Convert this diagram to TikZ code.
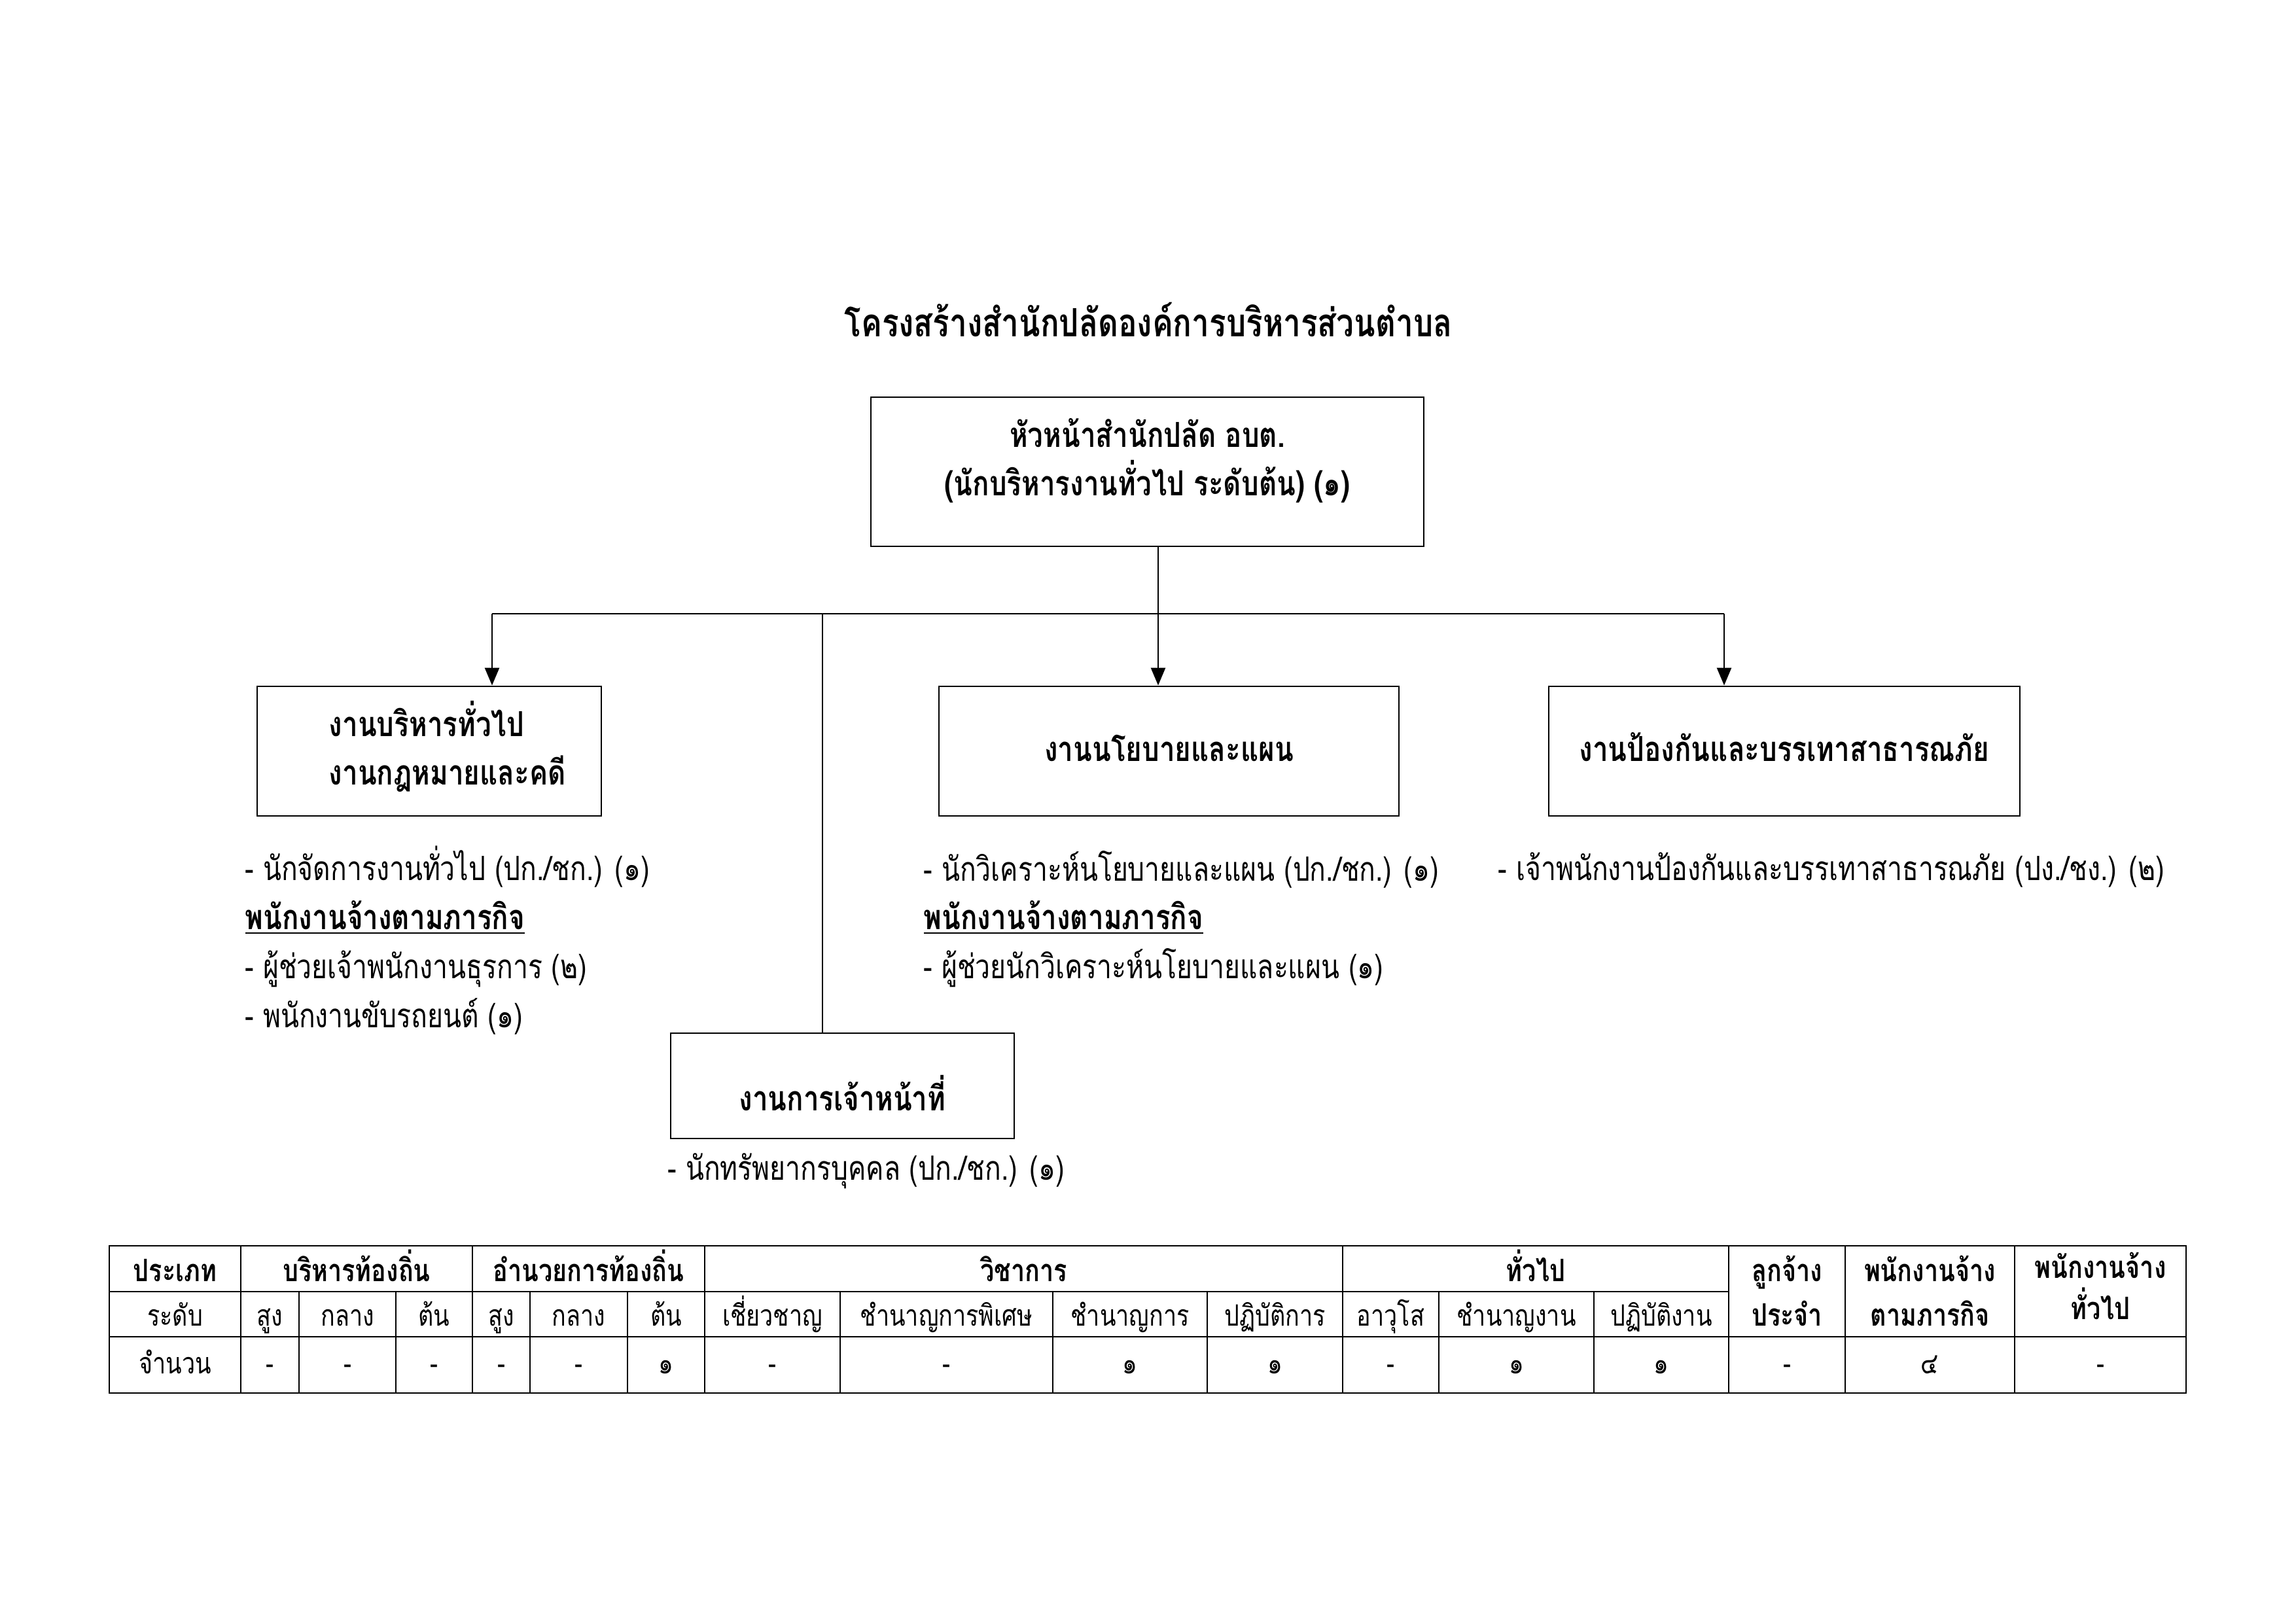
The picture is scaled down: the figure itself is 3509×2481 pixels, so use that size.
\documentclass[tikz,border=0pt]{standalone}
\usepackage{fontspec}
\setmainfont[Script=Thai,FakeStretch=0.8]{Loma}
\usetikzlibrary{arrows.meta}
\newlength\px
\setlength\px{0.08464mm}
\newcommand\fT{\fontsize{14.35}{17}\selectfont\bfseries}
\newcommand\fB{\fontsize{12.69}{15}\selectfont\bfseries}
\newcommand\fL{\fontsize{12.31}{15}\selectfont}
\newcommand\fTab{\fontsize{10.81}{13}\selectfont}
\newcommand\fTabB{\fontsize{11.375}{14}\selectfont\bfseries}
\begin{document}
\begin{tikzpicture}[x=0.08464mm,y=-0.08464mm,
  boxn/.style={draw, line width=0.7pt, inner sep=0pt},
  conn/.style={line width=0.7pt},
  arr/.style={line width=0.7pt, -{Triangle[length=2.29mm, width=1.86mm]}},
  bt/.style={anchor=base, inner sep=0pt, font=\fB},
  btl/.style={anchor=base west, inner sep=0pt, font=\fB},
  lt/.style={anchor=base west, inner sep=0pt, font=\fL},
  ut/.style={anchor=base west, inner sep=0pt, font=\fB},
  tgrid/.style={line width=0.5pt},
  tc/.style={anchor=base, inner sep=0pt, font=\fTab},
  tcb/.style={anchor=base, inner sep=0pt, font=\fTabB}]
\useasboundingbox (0,0) rectangle (3509,2481);
\fill[white] (0,0) rectangle (3509,2481);

% title
\node[anchor=base, inner sep=0pt, font=\fT] (title) at (1755,514) {โครงสร้างสำนักปลัดองค์การบริหารส่วนตำบล};

% head box
\node[boxn, minimum width=845*\px, minimum height=228*\px] (head) at (1753.5,721) {};
\node[bt] (h1) at (1753.5,683) {หัวหน้าสำนักปลัด อบต.};
\node[bt] (h2) at (1753.5,757) {(นักบริหารงานทั่วไป ระดับต้น) (๑)};

% second level boxes
\node[boxn, minimum width=526*\px, minimum height=198*\px] (b1) at (656,1148) {};
\node[btl] (b1a) at (502,1125) {งานบริหารทั่วไป};
\node[btl] (b1b) at (502,1199) {งานกฎหมายและคดี};

\node[boxn, minimum width=703*\px, minimum height=198*\px] (b3) at (1786.5,1148) {};
\node[bt] (b3a) at (1786.5,1163) {งานนโยบายและแผน};

\node[boxn, minimum width=720*\px, minimum height=198*\px] (b4) at (2727,1148) {};
\node[bt] (b4a) at (2727,1163) {งานป้องกันและบรรเทาสาธารณภัย};

\node[boxn, minimum width=525*\px, minimum height=161*\px] (b5) at (1287.5,1659.5) {};
\node[bt] (b5a) at (1287.5,1697) {งานการเจ้าหน้าที่};

% connectors
\coordinate (j) at (1770,938);
\coordinate (jl) at (752,938);
\coordinate (jr) at (2635,938);
\coordinate (jm) at (1257,938);
\draw[conn] (head.south -| j) -- (j);
\draw[conn] (jl) -- (jr);
\draw[arr] (jl) -- (jl |- b1.north);
\draw[arr] (j) -- (j |- b3.north);
\draw[arr] (jr) -- (jr |- b4.north);
\draw[conn] (jm) -- (jm |- b5.north);

% lists
\node[lt] (l11) at (374,1345) {- นักจัดการงานทั่วไป (ปก./ชก.) (๑)};
\node[ut] (l12) at (374,1420) {\underline{พนักงานจ้างตามภารกิจ}};
\node[lt] (l13) at (374,1495) {- ผู้ช่วยเจ้าพนักงานธุรการ (๒)};
\node[lt] (l14) at (374,1570) {- พนักงานขับรถยนต์ (๑)};

\node[lt] (l31) at (1411,1346) {- นักวิเคราะห์นโยบายและแผน (ปก./ชก.) (๑)};
\node[ut] (l32) at (1411,1420) {\underline{พนักงานจ้างตามภารกิจ}};
\node[lt] (l33) at (1411,1495) {- ผู้ช่วยนักวิเคราะห์นโยบายและแผน (๑)};

\node[lt] (l41) at (2289,1345) {- เจ้าพนักงานป้องกันและบรรเทาสาธารณภัย (ปง./ชง.) (๒)};

\node[lt] (l51) at (1020,1803) {- นักทรัพยากรบุคคล (ปก./ชก.) (๑)};

% table grid
\draw[tgrid] (167,1904) rectangle (3341,2129);
\draw[tgrid] (167,1974) -- (2642,1974);
\draw[tgrid] (167,2043) -- (3341,2043);
\foreach \x in {368,722,1077,2052,2642,2820,3079}
  \draw[tgrid] (\x,1904) -- (\x,2129);
\foreach \x in {457,605,810,959,1284,1609,1845,2199,2436}
  \draw[tgrid] (\x,1974) -- (\x,2129);

% table header row 1
\node[tcb] (r1a) at (267.5,1958) {ประเภท};
\node[tcb] (r1b) at (545,1958) {บริหารท้องถิ่น};
\node[tcb] (r1c) at (899.5,1958) {อำนวยการท้องถิ่น};
\node[tcb] (r1d) at (1564.5,1958) {วิชาการ};
\node[tcb] (r1e) at (2347,1958) {ทั่วไป};
\node[tcb] (r1f) at (2731,1958) {ลูกจ้าง};
\node[tcb] (r1g) at (2949.5,1958) {พนักงานจ้าง};
\node[tcb] (r1h) at (3210,1953) {พนักงานจ้าง};

% row 2
\foreach \x/\t [count=\i] in {267.5/ระดับ,412.5/สูง,531/กลาง,663.5/ต้น,766/สูง,884.5/กลาง,1018/ต้น,1180.5/เชี่ยวชาญ,1446.5/ชำนาญการพิเศษ,1727/ชำนาญการ,1948.5/ปฏิบัติการ,2125.5/อาวุโส,2317.5/ชำนาญงาน,2539/ปฏิบัติงาน}
  \node[tc] (r2c\i) at (\x,2026) {\t};
\node[tcb] (r2f) at (2731,2026) {ประจำ};
\node[tcb] (r2g) at (2949.5,2026) {ตามภารกิจ};
\node[tcb] (r2h) at (3210,2016) {ทั่วไป};

% row 3
\foreach \x/\t [count=\i] in {267.5/จำนวน,412.5/-,531/-,663.5/-,766/-,884.5/-,1018/๑,1180.5/-,1446.5/-,1727/๑,1948.5/๑,2125.5/-,2317.5/๑,2539/๑,2731/-,2949.5/๔,3210/-}
  \node[tc] (r3c\i) at (\x,2099) {\t};
\end{tikzpicture}
\end{document}
